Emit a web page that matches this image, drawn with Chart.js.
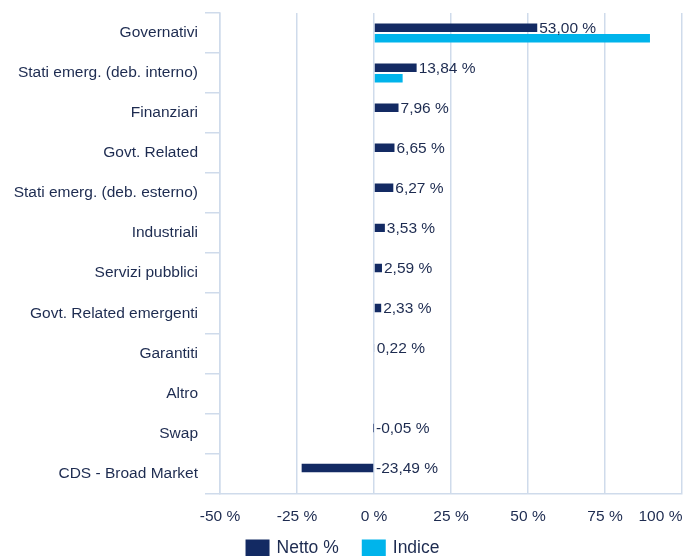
<!DOCTYPE html>
<html>
<head>
<meta charset="utf-8">
<script src="https://cdn.jsdelivr.net/npm/chart.js@4.4.1/dist/chart.umd.min.js"></script>
<style>
  html, body { margin: 0; padding: 0; background: #fff; overflow: hidden; }
  #wrap { width: 685px; height: 556px; }
</style>
</head>
<body>
<div id="wrap"><canvas id="chart"></canvas></div>
<script>
const categories = [
  'Governativi',
  'Stati emerg. (deb. interno)',
  'Finanziari',
  'Govt. Related',
  'Stati emerg. (deb. esterno)',
  'Industriali',
  'Servizi pubblici',
  'Govt. Related emergenti',
  'Garantiti',
  'Altro',
  'Swap',
  'CDS - Broad Market'
]
const netto = [53.00, 13.84, 7.96, 6.65, 6.27, 3.53, 2.59, 2.33, 0.22, 0, -0.05, -23.49]
const indice = [89.6, 9.3, 0, 0, 0, 0, 0, 0, 0, 0, 0, 0]
const xTicks = [-50, -25, 0, 25, 50, 75, 100]

const NAVY = '#132a63'
const CYAN = '#00b4eb'
const GRID = '#cfdbeb'
const TEXT = '#1d2b50'
const FONT = '"Liberation Sans", Arial, Helvetica, sans-serif'

// etichette valori solo per Netto
const valueLabels = {
  id: 'valueLabels',
  afterDatasetsDraw(chart){
    const ctx = chart.ctx
    const meta = chart.getDatasetMeta(0)
    const zeroX = chart.scales.x.getPixelForValue(0)
    ctx.save()
    ctx.font = '15.5px ' + FONT
    ctx.fillStyle = TEXT
    ctx.textAlign = 'left'
    ctx.textBaseline = 'middle'
    meta.data.forEach((bar, i) => {
      const v = netto[i]
      if (v === 0) return
      const x = Math.max(bar.x, zeroX) + 2
      ctx.fillText(v.toFixed(2).replace('.', ',') + ' %', x, bar.y + 1)
    })
    ctx.restore()
  }
}

// legenda in basso, più vicina all'asse
const bottomLegend = {
  id: 'bottomLegend',
  afterDraw(chart){
    const ctx = chart.ctx
    const items = chart.data.datasets.map(d => ({ text: d.label, color: d.backgroundColor }))
    ctx.save()
    ctx.font = '17.5px ' + FONT
    const boxW = 24, boxH = 17, gap = 7, spacing = 23
    const widths = items.map(it => boxW + gap + ctx.measureText(it.text).width)
    const total = widths.reduce((a, b) => a + b, 0) + spacing * (items.length - 1)
    let x = (chart.width - total) / 2
    const y = 548
    ctx.textBaseline = 'middle'
    ctx.textAlign = 'left'
    items.forEach((it, i) => {
      ctx.fillStyle = it.color
      ctx.fillRect(x, y - boxH / 2, boxW, boxH)
      ctx.fillStyle = TEXT
      ctx.fillText(it.text, x + boxW + gap, y)
      x += widths[i] + spacing
    })
    ctx.restore()
  }
}

new Chart(document.getElementById('chart'), {
  type: 'bar',
  data: {
    labels: categories,
    datasets: [
      { label: 'Netto %', data: netto, backgroundColor: NAVY, borderWidth: 0 },
      { label: 'Indice', data: indice, backgroundColor: CYAN, borderWidth: 0 }
    ]
  },
  options: {
    indexAxis: 'y',
    responsive: true,
    maintainAspectRatio: false,
    animation: false,
    datasets: { bar: { categoryPercentage: 0.53, barPercentage: 0.8 } },
    layout: { padding: { top: 13, right: 3, left: 0, bottom: 16 } },
    plugins: {
      tooltip: { enabled: false },
      legend: { display: false }
    },
    scales: {
      x: {
        min: -50,
        max: 100,
        afterBuildTicks(scale){ scale.ticks = xTicks.map(v => ({ value: v })) },
        afterFit(scale){ scale.paddingRight = 0; scale.paddingLeft = 0 },
        grid: { color: GRID, lineWidth: 1.5, drawTicks: false },
        border: { color: GRID, width: 1.5 },
        ticks: {
          padding: 14,
          maxRotation: 0,
          minRotation: 0,
          autoSkip: false,
          color: TEXT,
          font: { family: FONT, size: 15.5 },
          // l'ultima etichetta resta dentro il bordo
          callback: v => v === 100 ? v + ' %          ' : v + ' %'
        }
      },
      y: {
        afterFit(scale){ scale.width = 220; scale.paddingTop = 0; scale.paddingBottom = 0 },
        grid: { offset: true, drawOnChartArea: false, drawTicks: true, tickLength: 15, color: GRID, lineWidth: 1.5 },
        border: { color: GRID, width: 1.5 },
        ticks: {
          padding: 7,
          color: TEXT,
          font: { family: FONT, size: 15.5 }
        }
      }
    }
  },
  plugins: [valueLabels, bottomLegend]
})
</script>
</body>
</html>
